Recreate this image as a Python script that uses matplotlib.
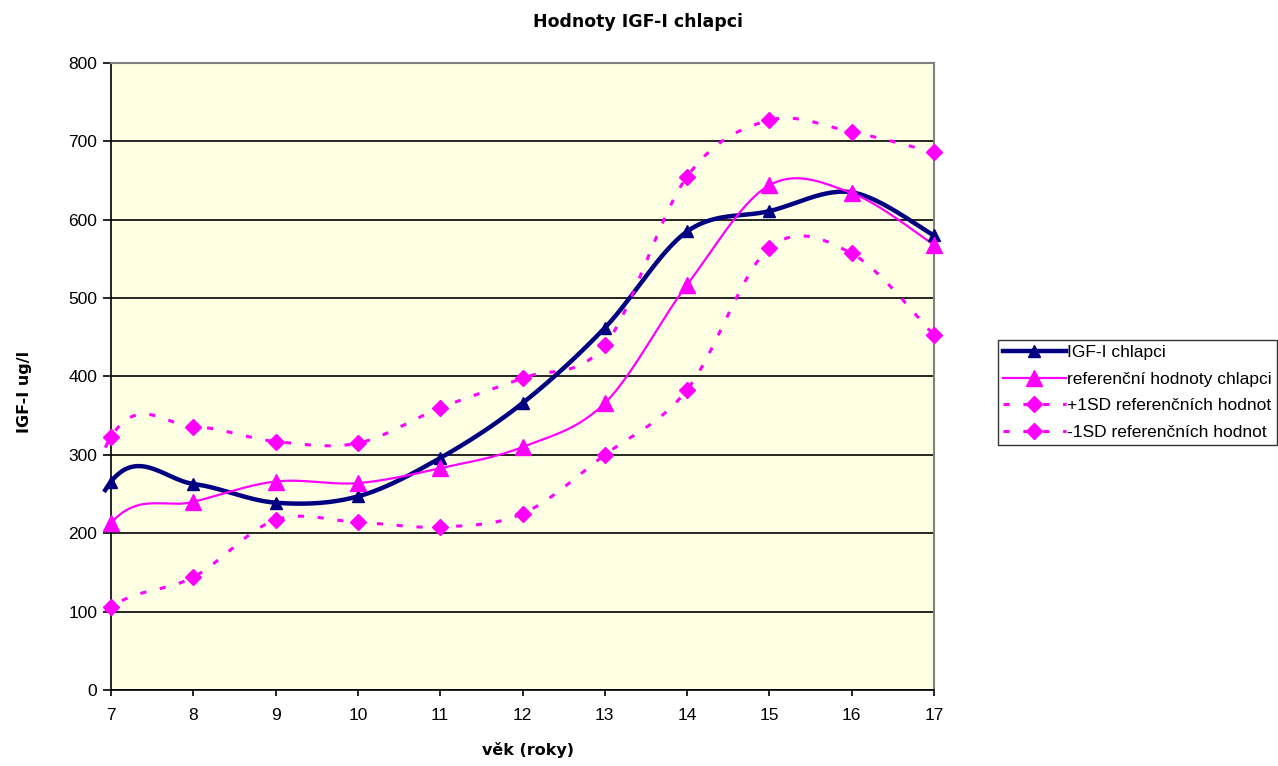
import numpy as np
import matplotlib.pyplot as plt

# vek (roky)
vek = [7, 8, 9, 10, 11, 12, 13, 14, 15, 16, 17]
igf_chlapci = [266, 263, 239, 247, 296, 366, 462, 585, 611, 635, 580]
ref_chlapci = [213, 240, 266, 264, 283, 310, 366, 517, 644, 634, 568]
plus_1sd = [323, 336, 317, 315, 360, 398, 440, 655, 727, 712, 686]
minus_1sd = [106, 144, 217, 214, 208, 225, 300, 383, 564, 557, 453]

# the series seem to start with an empty (0) value at age 6, outside the axis
vek_pred = 6
hodnota_pred = 0


def smooth(x, y, n=30):
    # Excel-like smoothed line (Bezier segments, tension 1/6)
    x = np.asarray(x, float)
    y = np.asarray(y, float)
    px = np.concatenate([[x[0]], x, [x[-1]]])
    py = np.concatenate([[y[0]], y, [y[-1]]])
    xs, ys = [], []
    t = np.linspace(0, 1, n)
    for i in range(1, len(px) - 2):
        p0 = np.array([px[i], py[i]])
        p3 = np.array([px[i + 1], py[i + 1]])
        p1 = p0 + (np.array([px[i + 1], py[i + 1]]) - np.array([px[i - 1], py[i - 1]])) / 6
        p2 = p3 - (np.array([px[i + 2], py[i + 2]]) - np.array([px[i], py[i]])) / 6
        b = ((1 - t) ** 3)[:, None] * p0 + (3 * (1 - t) ** 2 * t)[:, None] * p1 \
            + (3 * (1 - t) * t ** 2)[:, None] * p2 + (t ** 3)[:, None] * p3
        xs.extend(b[:, 0])
        ys.extend(b[:, 1])
    return np.array(xs), np.array(ys)


plt.rcParams['font.family'] = ['Liberation Sans', 'DejaVu Sans']

fig = plt.figure(figsize=(12.78, 7.66), dpi=100)
ax = fig.add_axes([0.0869, 0.0992, 0.6439, 0.8186])
ax.set_facecolor('#FFFFE3')

magenta = '#FF00FF'
navy = '#000080'
dots = (0, (2, 4.5))

series = [
    (igf_chlapci, navy, '-', 3.2, '^', 9, 'IGF-I chlapci'),
    (ref_chlapci, magenta, '-', 1.6, '^', 11, 'referenční hodnoty chlapci'),
    (plus_1sd, magenta, dots, 2.2, 'D', 8, '+1SD referenčních hodnot'),
    (minus_1sd, magenta, dots, 2.2, 'D', 8, '-1SD referenčních hodnot'),
]
handles = []
for vals, col, ls, lw, mk, ms, lab in series:
    sx, sy = smooth([vek_pred] + vek, [hodnota_pred] + vals)
    keep = sx >= 6.9
    ax.plot(sx[keep], sy[keep], color=col, ls=ls, lw=lw, clip_on=False, zorder=3)
    ax.plot(vek, vals, ls='none', marker=mk, ms=ms, color=col, clip_on=False, zorder=4)
    h, = ax.plot([], [], color=col, ls=ls, lw=lw, marker=mk, ms=ms)
    h.set_label(lab)
    handles.append(h)

ax.set_xlim(7, 17)
ax.set_ylim(0, 800)
ax.set_xticks(vek)
ax.set_yticks(range(0, 801, 100))
ax.yaxis.grid(True, color='black', lw=1.2)
ax.set_axisbelow(True)
ax.tick_params(axis='y', direction='out', length=6, width=1.2, labelsize=12.5, pad=4)
ax.tick_params(axis='x', direction='out', length=4, width=1.2, labelsize=12.5, pad=9)
for s in ['left', 'bottom']:
    ax.spines[s].set_color('black')
    ax.spines[s].set_linewidth(1.2)
for s in ['top', 'right']:
    ax.spines[s].set_color('#808080')
    ax.spines[s].set_linewidth(1.5)

fig.text(528 / 1278, 1 - 750 / 766, 'věk (roky)', ha='center', va='center',
         fontsize=11.5, fontweight='bold', family=['DejaVu Sans'])
fig.text(25 / 1278, 1 - 392 / 766, 'IGF-I ug/l', ha='center', va='center', rotation=90,
         fontsize=11.5, fontweight='bold', family=['DejaVu Sans'])
fig.text(638 / 1278, 1 - 22 / 766, 'Hodnoty IGF-I chlapci', ha='center', va='center',
         fontsize=12.5, fontweight='bold', family=['DejaVu Sans'])

leg = fig.legend(handles=handles, loc='upper left', bbox_to_anchor=(998 / 1278, 1 - 340 / 766),
                 fontsize=12.5, frameon=True, fancybox=False, handlelength=3.6,
                 handletextpad=0.1, borderpad=0.3, labelspacing=0.65,
                 borderaxespad=0)
leg.get_frame().set_edgecolor('black')
leg.get_frame().set_linewidth(1.0)

fig.savefig('out.png', dpi=100)
